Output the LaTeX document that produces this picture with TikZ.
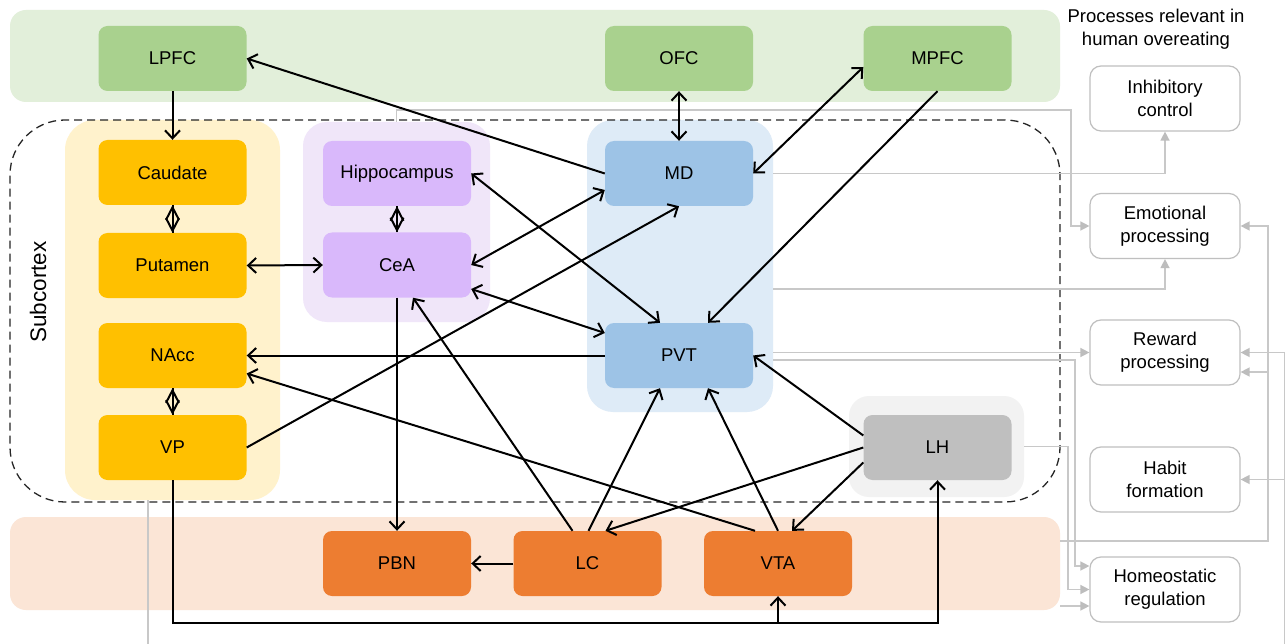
\documentclass[tikz,border=0pt]{standalone}
\usepackage{fontspec}
\setmainfont{Liberation Sans}
\usetikzlibrary{arrows.meta,calc}
\definecolor{grnband}{HTML}{E2EFDA}
\definecolor{grnbox}{HTML}{A9D18E}
\definecolor{ylwgrp}{HTML}{FFF2CC}
\definecolor{ylwbox}{HTML}{FFC000}
\definecolor{prpgrp}{HTML}{F0E6F9}
\definecolor{prpbox}{HTML}{D9B8FB}
\definecolor{blugrp}{HTML}{DEEBF7}
\definecolor{blubox}{HTML}{9DC3E6}
\definecolor{orgband}{HTML}{FBE5D6}
\definecolor{orgbox}{HTML}{ED7D31}
\definecolor{lhgrp}{HTML}{F2F2F2}
\definecolor{lhbox}{HTML}{BFBFBF}
\definecolor{gline}{HTML}{C8C8C8}
\definecolor{gtip}{HTML}{BDBDBD}
\begin{document}
\begin{tikzpicture}[x=1pt,y=-1pt,
  txt/.style={font=\fontsize{18.5}{23}\selectfont},
  box/.style={txt, rounded corners=9pt, minimum width=148pt, minimum height=65pt, inner sep=0pt, align=center},
  pbox/.style={box, draw=lhbox, line width=1.2pt, fill=white, minimum width=150pt, rounded corners=11pt},
  grp/.style={inner sep=0pt, rounded corners=#1},
  blk/.style={draw=black, line width=2pt},
  arr/.style={blk, -{Straight Barb[length=8pt,width=15pt]}},
  barr/.style={blk, {Straight Barb[length=8pt,width=15pt]}-{Straight Barb[length=8pt,width=15pt]}},
  darr/.style={blk, {Straight Barb[length=12.5pt,width=13pt]}-{Straight Barb[length=12.5pt,width=13pt]}},
  garr/.style={draw=gline, line width=1.4pt, -{Triangle[length=9pt,width=9pt,fill=gtip,color=gtip]}}
]
\useasboundingbox (0,0) rectangle (1287,644);
\clip (0,0) rectangle (1287,644);
\fill[white] (0,0) rectangle (1287,644);

% bands and groups
\node[grp=16pt, fill=grnband, minimum width=1050pt, minimum height=92pt] (gband) at (535,56) {};
\node[grp=16pt, fill=orgband, minimum width=1050pt, minimum height=93pt] (oband) at (535,563.5) {};
\node[grp=30pt, fill=ylwgrp, minimum width=215pt, minimum height=380pt] (yellowgrp) at (172.5,310) {};
\node[grp=24pt, fill=prpgrp, minimum width=187pt, minimum height=200pt] (purplegrp) at (396.5,222) {};
\node[grp=26pt, fill=blugrp, minimum width=186pt, minimum height=292pt] (bluegrp) at (680,266) {};
\node[grp=20pt, fill=lhgrp, minimum width=175pt, minimum height=101pt] (LHgrp) at (936.5,446.5) {};
\node[grp=55pt, draw=black!85, line width=1.3pt, dash pattern=on 8pt off 5pt, minimum width=1050pt, minimum height=382pt] (subc) at (535,311) {};
\node[txt, font=\fontsize{22.5}{26}\selectfont, rotate=90] (subclabel) at (38,292) {Subcortex};

% process boxes
\node[txt, align=center, inner sep=0pt] (title) at (1156,29) {Processes relevant in\\human overeating};
\node[pbox] (Inhib) at (1165,98.5) {Inhibitory\\control};
\node[pbox] (Emo) at (1165,226) {Emotional\\processing};
\node[pbox] (Reward) at (1165,352.5) {Reward\\processing};
\node[pbox] (Habit) at (1165,479.5) {Habit\\formation};
\node[pbox] (Homeo) at (1165,589.5) {Homeostatic\\regulation};

% gray connectors
\coordinate (g1) at (1071,110);
\draw[garr] (purplegrp.north) |- (g1) |- (Emo.west);
\coordinate (g2) at (773,173.5);
\draw[garr] (g2) -| (Inhib.south);
\draw[garr] ([yshift=-23pt]bluegrp.east) -| (Emo.south);
\draw[garr] (bluegrp.east |- Reward.west) -- (Reward.west);
\coordinate (g5) at (1075,360);
\coordinate (h1) at ([yshift=23.5pt]Homeo.west);
\draw[garr] (bluegrp.east |- g5) -- (g5) |- (h1);
\coordinate (g6) at (1068,446.5);
\draw[garr] (LHgrp.east) -- (g6) |- (Homeo.west);
\coordinate (h3) at ([yshift=-16.5pt]Homeo.west);
\draw[garr] (oband.east |- h3) -- (h3);
\coordinate (g8) at (1268,541);
\coordinate (r2) at ([yshift=-19.5pt]Reward.east);
\draw[garr] (oband.east |- g8) -- (g8) |- (Emo.east);
\draw[garr] (g8 |- r2) -- (r2);
\coordinate (g9a) at (148,665);
\coordinate (g9b) at (1284.5,665);
\draw[garr] ([xshift=-24.5pt]yellowgrp.south) -- (g9a) -- (g9b) |- (Reward.east);
\draw[garr] (g9b) |- (Habit.east);

% region boxes
\node[box, fill=grnbox] (LPFC) at (172.5,58.5) {LPFC};
\node[box, fill=grnbox] (OFC) at (679,58.5) {OFC};
\node[box, fill=grnbox] (MPFC) at (937.5,58.5) {MPFC};
\node[box, fill=ylwbox] (Caudate) at (172.5,172.5) {Caudate};
\node[box, fill=ylwbox] (Putamen) at (172.5,265.5) {Putamen};
\node[box, fill=ylwbox] (NAcc) at (172.5,355.5) {NAcc};
\node[box, fill=ylwbox] (VP) at (172.5,447.5) {VP};
\node[box, fill=prpbox] (Hippo) at (397,173.5) {Hippocampus};
\node[box, fill=prpbox] (CeA) at (397,265) {CeA};
\node[box, fill=blubox] (MD) at (679,173.5) {MD};
\node[box, fill=blubox] (PVT) at (679,355.5) {PVT};
\node[box, fill=lhbox] (LH) at (937.5,447.5) {LH};
\node[box, fill=orgbox] (PBN) at (397,563.5) {PBN};
\node[box, fill=orgbox] (LC) at (587.5,563.5) {LC};
\node[box, fill=orgbox] (VTA) at (778,563.5) {VTA};

% black connectors
\draw[arr] (LPFC.south) -- (Caudate.north);
\draw[arr] (MD.west) -- (LPFC.east);
\draw[barr] (OFC.south) -- (MD.north);
\draw[barr] (MD.east) -- ([yshift=-8.5pt]MPFC.west);
\draw[arr] (MPFC.south) -- ([xshift=29pt]PVT.north);
\draw[barr] (Hippo.east) -- ([xshift=-19pt]PVT.north);
\draw[barr] (CeA.east) -- ([yshift=-16.5pt]MD.west);
\draw[barr] ([yshift=-24pt]CeA.east) -- ([yshift=22.5pt]PVT.west);
\draw[barr] (Putamen.east) -- (CeA.west);
\draw[arr] (VP.east) -- (MD.south);
\draw[arr] (PVT.west) -- (NAcc.east);
\draw[arr] ([xshift=-23pt]VTA.north) -- ([yshift=-18pt]NAcc.east);
\draw[arr] ([xshift=-15pt]LC.north) -- ([xshift=16pt]CeA.south);
\draw[arr] ([xshift=1pt]LC.north) -- ([xshift=-19pt]PVT.south);
\draw[arr] (VTA.north) -- ([xshift=29pt]PVT.south);
\draw[arr] ([yshift=12pt]LH.west) -- (PVT.east);
\draw[arr] (LH.west) -- ([xshift=18pt]LC.north);
\draw[arr] ([yshift=-15pt]LH.west) -- ([xshift=14pt]VTA.north);
\draw[arr] (CeA.south) -- (PBN.north);
\draw[arr] (LC.west) -- (PBN.east);
\coordinate (b1) at (172.5,623);
\draw[arr] (VP.south) -- (b1) -| (VTA.south);
\draw[arr] (b1) -| (LH.south);
\draw[blk] (Caudate.south) -- (Putamen.north);
\draw[darr] (Caudate.south) -- (Putamen.north);
\draw[blk] (Hippo.south) -- (CeA.north);
\draw[darr] (Hippo.south) -- (CeA.north);
\draw[blk] (NAcc.south) -- (VP.north);
\draw[darr] (NAcc.south) -- (VP.north);
\end{tikzpicture}
\end{document}
